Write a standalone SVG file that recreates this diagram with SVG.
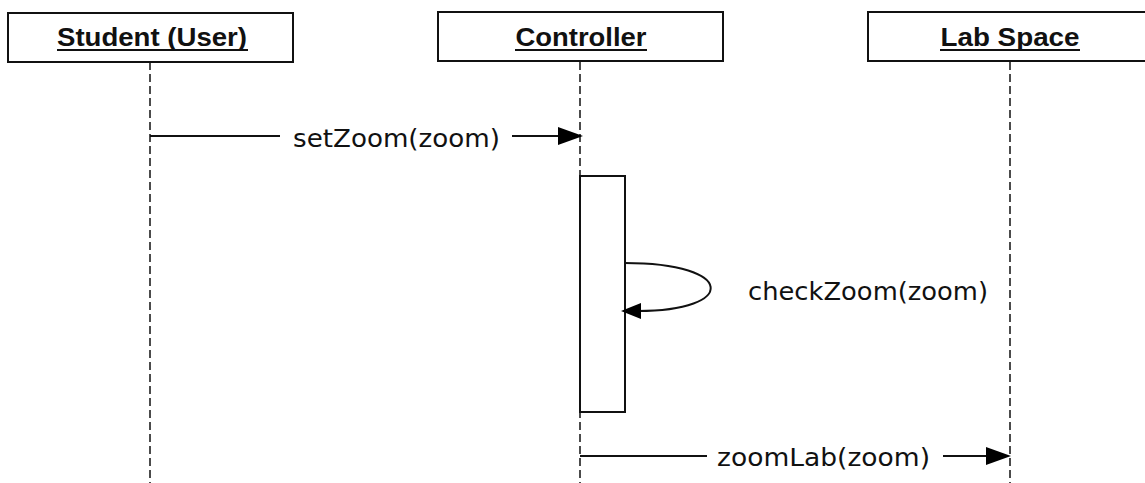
<svg xmlns="http://www.w3.org/2000/svg" width="1145" height="483" viewBox="0 0 1145 483">
  <style>
    .head { fill: #fff; stroke: #111; stroke-width: 2; }
    .htxt { font-family: "Liberation Sans", Arial, sans-serif; font-weight: bold; font-size: 26px; fill: #111; text-anchor: middle; }
    .uline { stroke: #111; stroke-width: 2; }
    .life { stroke: #111; stroke-width: 1.5; stroke-dasharray: 8 4; fill: none; }
    .act { fill: #fff; stroke: #111; stroke-width: 2; }
    .msg { stroke: #111; stroke-width: 2; fill: none; }
    .mtxt { font-family: "DejaVu Sans", Verdana, sans-serif; font-size: 25px; fill: #111; }
    .head-arrow { fill: #000; }
  </style>

  <!-- lifelines -->
  <g id="lifelines">
    <line class="life" x1="150" y1="62" x2="150" y2="483"/>
    <line class="life" x1="580" y1="62" x2="580" y2="483"/>
    <line class="life" x1="1010" y1="62" x2="1010" y2="483"/>
  </g>

  <g id="student">
    <rect class="head" x="8" y="13" width="285" height="49"/>
    <text class="htxt" x="152" y="46" textLength="190" lengthAdjust="spacingAndGlyphs">Student (User)</text>
    <line class="uline" x1="57" y1="50" x2="248" y2="50"/>
  </g>

  <g id="controller">
    <rect class="head" x="438" y="12" width="285" height="49"/>
    <text class="htxt" x="581" y="46" textLength="131" lengthAdjust="spacingAndGlyphs">Controller</text>
    <line class="uline" x1="515" y1="50" x2="647" y2="50"/>
    <rect class="act" x="580" y="176" width="45" height="236"/>
  </g>

  <g id="labspace">
    <rect class="head" x="868" y="12" width="290" height="49"/>
    <text class="htxt" x="1010" y="46" textLength="139" lengthAdjust="spacingAndGlyphs">Lab Space</text>
    <line class="uline" x1="940" y1="50" x2="1080" y2="50"/>
  </g>

  <!-- messages -->
  <g id="connectors">
    <line class="msg" x1="150" y1="136" x2="280" y2="136"/>
    <line class="msg" x1="512" y1="136" x2="562" y2="136"/>
    <polygon class="head-arrow" points="583,136 558,127 558,145"/>
    <text class="mtxt" x="293" y="147" textLength="207" lengthAdjust="spacingAndGlyphs">setZoom(zoom)</text>

    <path class="msg" d="M625,263 C737,263 737,311 638,311"/>
    <polygon class="head-arrow" points="621,311 641,303 641,319"/>
    <text class="mtxt" x="748" y="300" textLength="240" lengthAdjust="spacingAndGlyphs">checkZoom(zoom)</text>

    <line class="msg" x1="580" y1="456" x2="707" y2="456"/>
    <line class="msg" x1="943" y1="456" x2="990" y2="456"/>
    <polygon class="head-arrow" points="1011,456 986,447 986,465"/>
    <text class="mtxt" x="717" y="466" textLength="213" lengthAdjust="spacingAndGlyphs">zoomLab(zoom)</text>
  </g>
</svg>
